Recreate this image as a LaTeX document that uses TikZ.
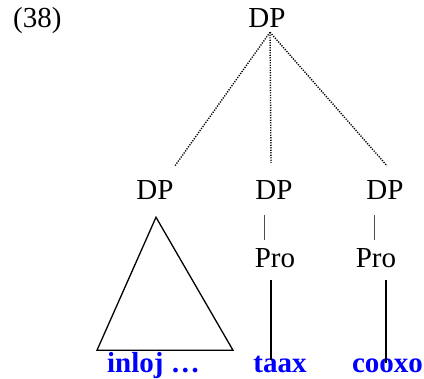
\documentclass[tikz,border=0pt]{standalone}
\usepackage{fontspec}
\setmainfont{Liberation Serif}
\usetikzlibrary{calc}
\definecolor{wordblue}{RGB}{0,0,255}
\begin{document}
\begin{tikzpicture}[x=1pt,y=-1pt,
  lab/.style={inner sep=0pt,anchor=base,font=\fontsize{29pt}{34pt}\selectfont},
  word/.style={lab,text=wordblue,font=\fontsize{29pt}{34pt}\selectfont\bfseries},
  dotline/.style={line width=1.4pt,dash pattern=on 1.2pt off 1.3pt},
  thinline/.style={line width=0.9pt,black!70},
  stemline/.style={line width=1.4pt},
  tri/.style={line width=1.3pt,line join=miter}]
\useasboundingbox (0,0) rectangle (424,379);
% labels
\node[lab,anchor=base west] (num) at (13,28) {(38)};
\node[lab] (top) at (267,28) {DP};
\node[lab] (dp1) at (155,200) {DP};
\node[lab] (dp2) at (274,200) {DP};
\node[lab] (dp3) at (385,200) {DP};
\node[lab] (pro2) at (275,268) {Pro};
\node[lab] (pro3) at (376,268) {Pro};
\node[word] (w1) at (153.5,373) {inloj …};
\node[word] (w2) at (280,373) {taax};
\node[word] (w3) at (387.5,373) {cooxo};
% dotted branches
\coordinate (apex) at ($(top.south)+(3,4)$);
\draw[dotline] (apex) -- ($(dp1.north)+(20,-15)$);
\draw[dotline] (apex) -- ($(dp2.north)+(-3,-18)$);
\draw[dotline] (apex) -- ($(dp3.north)+(2,-15)$);
% triangle
\draw[tri] ($(dp1.south)+(1,17)$) -- ++(-59,133) -- ++(136,0) -- cycle;
% short lines DP -- Pro
\draw[thinline] ($(dp2.south)+(-10,15)$) -- ($(pro2.north)+(-11,-9)$);
\draw[thinline] ($(dp3.south)+(-11,15)$) -- ($(pro3.north)+(-2,-9)$);
% stems Pro -- word
\draw[stemline] ($(pro2.south)+(-4,12)$) -- ($(w2.north)+(-9,4)$);
\draw[stemline] ($(pro3.south)+(10,12)$) -- ($(w3.north)+(-1.5,4)$);
\end{tikzpicture}
\end{document}
